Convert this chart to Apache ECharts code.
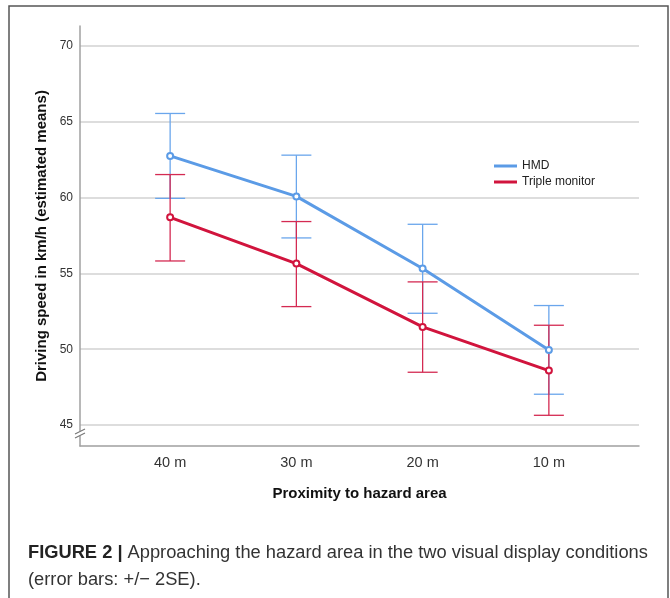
<!DOCTYPE html>
<html>
<head>
<meta charset="utf-8">
<script src="https://cdn.jsdelivr.net/npm/echarts@6/dist/echarts.min.js"></script>
<style>
  html, body { margin: 0; padding: 0; background: #fff; }
  #chart { width: 670px; height: 598px; }
</style>
</head>
<body>
<div id="chart"></div>
<script>
// data
var categories = ['40 m', '30 m', '20 m', '10 m'];
var yTicks = [45, 50, 55, 60, 65, 70];

var hmdMean  = [62.75, 60.08, 55.32, 49.95];
var hmdUpper = [65.55, 62.80, 58.24, 52.88];
var hmdLower = [59.95, 57.34, 52.37, 47.03];

var triMean  = [58.70, 55.65, 51.47, 48.59];
var triUpper = [61.52, 58.42, 54.44, 51.58];
var triLower = [55.82, 52.81, 48.48, 45.64];

var blue = '#5b9be6';
var red = '#d1143d';

var myChart = echarts.init(document.getElementById('chart'));

// 误差线
var errorBars = function (upper, lower) {
  var out = [];
  for (var i = 0; i < upper.length; i++) {
    out.push([i, lower[i], upper[i]]);
  }
  return out;
};

var renderBar = function (params, api) {
  var lo = api.coord([api.value(0), api.value(1)]);
  var hi = api.coord([api.value(0), api.value(2)]);
  var w = 15;
  var style = { stroke: api.visual('color'), lineWidth: 1.3 };
  return {
    type: 'group',
    children: [
      { type: 'line', shape: { x1: hi[0], y1: hi[1], x2: lo[0], y2: lo[1] }, style: style },
      { type: 'line', shape: { x1: hi[0] - w, y1: hi[1], x2: hi[0] + w, y2: hi[1] }, style: style },
      { type: 'line', shape: { x1: lo[0] - w, y1: lo[1], x2: lo[0] + w, y2: lo[1] }, style: style }
    ]
  };
};

var xMin = -0.714, xMax = 3.714;

var option = {
  animation: false,
  textStyle: { fontFamily: 'Liberation Sans, Arial, sans-serif' },
  grid: [
    { left: 80, right: 31, top: 46, bottom: 173 },
    { left: 80, right: 31, top: 26, bottom: 152 }
  ],
  legend: {
    orient: 'vertical',
    left: 494,
    top: 160,
    padding: 0,
    itemWidth: 23,
    itemHeight: 3,
    itemGap: 4,
    icon: 'rect',
    textStyle: { fontSize: 12, color: '#222' },
    data: ['HMD', 'Triple monitor']
  },
  xAxis: [
    { gridIndex: 0, type: 'value', min: xMin, max: xMax, show: false },
    {
      gridIndex: 1, type: 'value', min: xMin, max: xMax,
      axisLine: { show: true, onZero: false, lineStyle: { color: '#a0a0a0', width: 1.5 } },
      axisTick: { show: false },
      splitLine: { show: false },
      axisLabel: {
        customValues: [0, 1, 2, 3],
        formatter: function (v) { return categories[Math.round(v)]; },
        fontSize: 14.5, color: '#333', margin: 9
      },
      name: 'Proximity to hazard area',
      nameLocation: 'middle',
      nameGap: 40,
      nameTextStyle: { fontSize: 15, fontWeight: 'bold', color: '#111' }
    }
  ],
  yAxis: [
    {
      gridIndex: 0, type: 'value', min: 45, max: 70, interval: 5,
      axisLine: { show: false },
      axisTick: { show: false },
      splitLine: { show: true, lineStyle: { color: '#d2d2d2', width: 1.5 } },
      axisLabel: {
        formatter: function (v) { return yTicks.indexOf(v) >= 0 ? String(v) : ''; },
        fontSize: 12, color: '#333', margin: 7
      }
    },
    {
      gridIndex: 1, type: 'value', min: 43.6, max: 71.3,
      axisLine: { show: true, onZero: false, lineStyle: { color: '#a0a0a0', width: 1.5 } },
      axisTick: { show: false },
      axisLabel: { show: false },
      splitLine: { show: false },
      name: 'Driving speed in km/h (estimated means)',
      nameLocation: 'middle',
      nameGap: 31,
      nameTextStyle: { fontSize: 15, fontWeight: 'bold', color: '#111' }
    }
  ],
  series: [
    {
      name: 'HMD bars', type: 'custom', xAxisIndex: 0, yAxisIndex: 0,
      itemStyle: { color: '#6aa6ec' },
      renderItem: renderBar, data: errorBars(hmdUpper, hmdLower), z: 1
    },
    {
      name: 'Triple bars', type: 'custom', xAxisIndex: 0, yAxisIndex: 0,
      itemStyle: { color: '#d42a52' },
      renderItem: renderBar, data: errorBars(triUpper, triLower), z: 1
    },
    {
      name: 'HMD', type: 'line', xAxisIndex: 0, yAxisIndex: 0,
      data: hmdMean.map(function (v, i) { return [i, v]; }),
      lineStyle: { width: 3, color: blue },
      symbol: 'emptyCircle', symbolSize: 6,
      itemStyle: { color: blue, borderWidth: 1 },
      z: 3
    },
    {
      name: 'Triple monitor', type: 'line', xAxisIndex: 0, yAxisIndex: 0,
      data: triMean.map(function (v, i) { return [i, v]; }),
      lineStyle: { width: 3, color: red },
      symbol: 'emptyCircle', symbolSize: 6,
      itemStyle: { color: red, borderWidth: 1 },
      z: 3
    }
  ],
  graphic: [
    // outer frame
    { type: 'rect', shape: { x: 9, y: 6, width: 659, height: 600 },
      style: { fill: 'none', stroke: '#555', lineWidth: 1.5 }, z: 10 },
    // axis break mark
    { type: 'rect', shape: { x: 78, y: 431, width: 5, height: 5 }, style: { fill: '#fff' }, z: 20 },
    { type: 'line', shape: { x1: 75, y1: 434, x2: 85, y2: 429 }, style: { stroke: '#777', lineWidth: 1.2 }, z: 21 },
    { type: 'line', shape: { x1: 75, y1: 438, x2: 85, y2: 433 }, style: { stroke: '#777', lineWidth: 1.2 }, z: 21 },
    // caption
    {
      type: 'text', left: 28, top: 539, z: 10,
      style: {
        text: '{b|FIGURE 2 |} Approaching the hazard area in the two visual display conditions\n(error bars: +/\u2212 2SE).',
        font: '18.3px "Liberation Sans", sans-serif',
        fill: '#333',
        lineHeight: 27,
        rich: {
          b: { font: 'bold 18.3px "Liberation Sans", sans-serif', fill: '#222' }
        }
      }
    }
  ]
};

myChart.setOption(option);
</script>
</body>
</html>
